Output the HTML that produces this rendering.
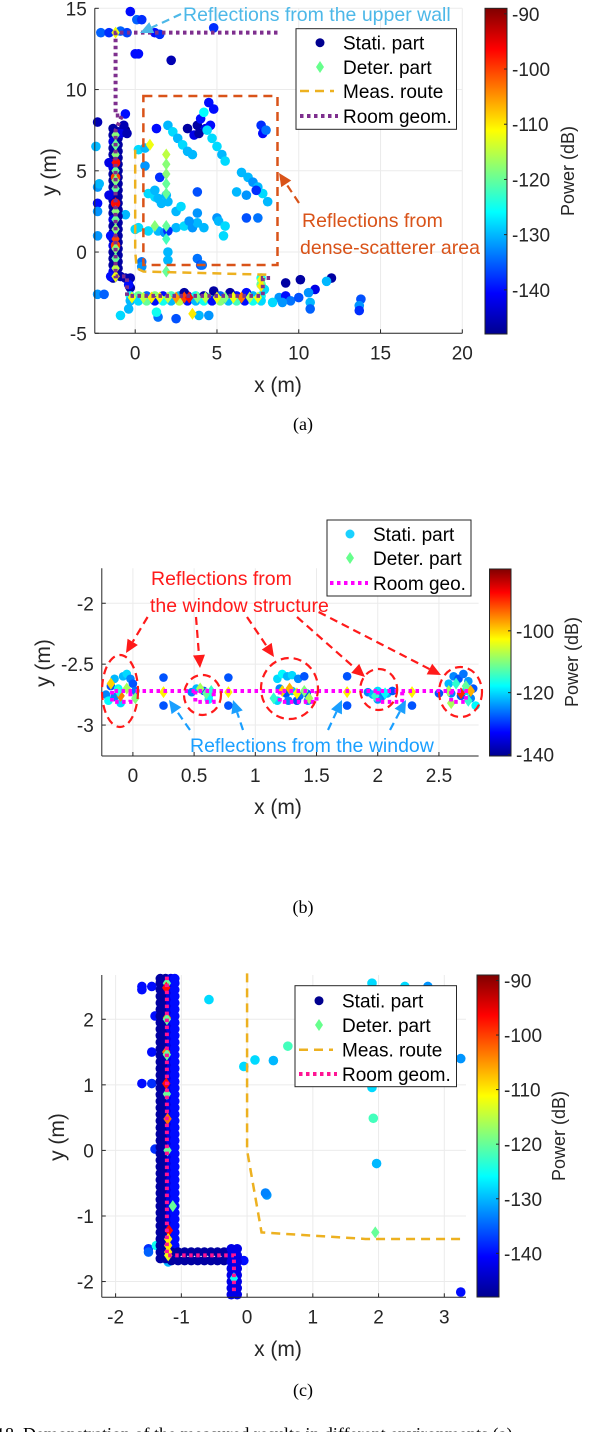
<!DOCTYPE html>
<html><head><meta charset="utf-8"><style>
body{margin:0;background:#fff}
svg text{font-family:"Liberation Sans",sans-serif}
.cap{font-family:"Liberation Serif",serif}
</style></head><body>
<svg id="fig" width="606" height="1432" viewBox="0 0 606 1432" xmlns="http://www.w3.org/2000/svg">
<defs>
<linearGradient id="jet" x1="0" y1="1" x2="0" y2="0">
<stop offset="0" stop-color="#00008f"/><stop offset="0.125" stop-color="#0000ff"/><stop offset="0.375" stop-color="#00ffff"/><stop offset="0.625" stop-color="#ffff00"/><stop offset="0.875" stop-color="#ff0000"/><stop offset="1" stop-color="#800000"/>
</linearGradient>
</defs>
</svg>
<script>
// ---------- Panel (a) data ----------
const aStati = [
[-2.1,13.5,-135],[-1.6,13.5,-138],[-0.9,13.6,-135],[-0.5,13.5,-137],[-0.3,14.8,-140],[0.1,14.3,-135],[0.4,14.3,-138],[1.2,13.5,-140],[1.5,13.4,-138],[4.8,13.8,-138],[0,12.2,-140],[0.2,12.2,-140],[2.2,11.8,-145],
[-2.3,8,-145],[-2.4,6.5,-130],[-2.3,4,-132],[-2.2,4.2,-130],[-2.3,3,-140],[-2.3,2.5,-132],[-2.3,1,-132],[-0.6,8.5,-140],[-0.6,7.5,-148],[-0.7,7.8,-145],[-0.6,2.3,-130],[-2.3,-2.6,-132],[-1.9,-2.6,-135],
[-1.35,7.6,-146],[-1.35,7.2,-146],[-1.35,6.8,-142],[-1.35,6.4,-146],[-1.35,6,-146],[-1.35,5.6,-146],[-1.35,5.2,-142],[-1.35,4.8,-146],[-1.35,4.4,-146],[-1.35,4,-146],[-1.35,3.6,-142],[-1.35,3.2,-146],[-1.35,2.8,-146],[-1.35,2.4,-146],[-1.35,2,-142],[-1.35,1.6,-146],[-1.35,1.2,-146],[-1.35,0.8,-146],[-1.35,0.4,-142],[-1.35,0,-146],[-1.35,-0.4,-146],[-1.35,-0.8,-146],[-1.35,-1.2,-142],[-1.35,-1.6,-146],
[-1.05,7.4,-146],[-1.05,7,-146],[-1.05,6.6,-146],[-1.05,6.2,-146],[-1.05,5.8,-146],[-1.05,5.4,-146],[-1.05,5,-146],[-1.05,4.6,-146],[-1.05,4.2,-146],[-1.05,3.8,-146],[-1.05,3.4,-146],[-1.05,3,-146],[-1.05,2.6,-146],[-1.05,2.2,-146],[-1.05,1.8,-146],[-1.05,1.4,-146],[-1.05,1,-146],[-1.05,0.6,-146],[-1.05,0.2,-146],[-1.05,-0.2,-146],[-1.05,-0.6,-146],[-1.05,-1,-146],[-1.05,-1.4,-146],
[-1.2,5.5,-97],[-1.2,3,-97],[-1.2,4.6,-100],[-1.2,0.4,-100],[-1.6,5.5,-142],[-1.6,3.5,-142],[-1.5,1,-140],[-1.5,-1.5,-140],[-0.9,7.3,-142],[-0.5,7.3,-145],[-0.6,-1.6,-145],[-0.3,-1.6,-145],[-0.9,-1.5,-145],[-0.3,-2.2,-145],[-0.4,-2,-140],
[2,7.8,-130],[2.3,7.4,-128],[2.6,7,-130],[2.9,6.6,-128],[3.2,6.2,-130],[3.5,6,-130],[3.2,7.6,-146],[3.6,7.2,-142],[3.8,7.8,-146],[4,8.2,-140],[4.3,7.6,-142],[4.6,7.8,-140],[3.9,7.3,-146],[4.5,9.2,-140],[4.8,8.8,-140],[4.2,8.6,-126],[4.4,7.5,-128],[4.7,7,-128],[5,6.5,-128],[5.3,6,-130],[5.5,5.6,-128],
[6.5,4.9,-130],[6.9,4.6,-130],[7.2,4.3,-132],[7.5,4,-130],[7.8,3.6,-128],[8.1,3.1,-130],[7.7,7.8,-138],[7.8,7.3,-140],[8,7.5,-134],[6.2,3.7,-130],[6.8,3.5,-132],[7.4,3.8,-138],[7.5,2.1,-134],
[1.3,7.6,-140],[0.2,6.3,-128],[0.6,6.4,-130],[0.6,5.3,-132],[1.2,3.4,-128],[1.4,3.3,-130],[1.6,3,-130],[0.8,3.6,-128],[1.2,3.8,-130],[0.8,1.3,-128],[1.4,1.3,-130],[1.8,1.2,-132],[0,1.4,-128],[0.2,1.5,-128],
[1.9,3.5,-130],[2.5,2.5,-130],[2.8,2.8,-128],[2.5,1.5,-130],[3,1.6,-128],[3.5,1.5,-132],[3.8,1.8,-130],[4.2,1.5,-130],[3.8,2.4,-132],[3.8,3.7,-136],[5,2.1,-132],[5.1,1.9,-130],[5.5,1.6,-128],[5.4,1,-128],[3.3,1.9,-132],[1.5,4.6,-138],[2,3.1,-130],[2,1.3,-138],[2,0,-130],[3.8,-0.4,-134],[4,-0.8,-136],[4.1,-0.8,-134],[0.4,-0.6,-134],[0.4,-0.9,-132],[6.8,2.1,-136],[2,-0.5,-130],
[-0.3,-2.7,-125],[0.2,-2.7,-120],[0.7,-2.7,-135],[1.2,-2.7,-118],[1.7,-2.7,-140],[2.2,-2.7,-122],[2.7,-2.7,-130],[3.2,-2.7,-140],[3.7,-2.7,-125],[4.2,-2.7,-145],[4.7,-2.7,-122],[5.2,-2.7,-135],[5.7,-2.7,-128],[6.2,-2.7,-140],[6.7,-2.7,-120],[7.2,-2.7,-130],[7.7,-2.7,-125],
[-0.3,-3,-130],[0.2,-3,-128],[0.7,-3,-120],[1.2,-3,-140],[1.7,-3,-125],[2.2,-3,-130],[2.7,-3,-115],[3.2,-3,-140],[3.7,-3,-130],[4.2,-3,-125],[4.7,-3,-140],[5.2,-3,-118],[5.7,-3,-130],[6.2,-3,-122],[6.7,-3,-140],[7.2,-3,-125],[7.7,-3,-128],
[3,-2.5,-146],[4.8,-2.4,-146],[5.8,-2.5,-146],[7.7,-1.6,-125],[7.7,-2,-120],[7.9,-2.3,-128],
[6.8,-2.5,-140],[9.2,-1.9,-146],[10.1,-1.7,-146],[11,-2.3,-142],[12,-1.6,-146],[11.7,-1.8,-130],[8.8,-2.8,-132],[9.2,-2.7,-140],[9.5,-3,-134],[10,-2.8,-136],[10.6,-2.5,-132],[10.7,-3.1,-130],[10.7,-3.5,-135],[13.8,-2.9,-136],[13.7,-3.3,-132],[13.7,-3.6,-138],[9,-3.1,-132],[8.4,-3.1,-128],
[-0.9,-3.9,-128],[-0.4,-3.5,-130],[1.4,-4,-134],[2.5,-4.1,-136],[4.5,-3.9,-132],[1.3,-3.7,-125],[3.9,-3.9,-130]
];
const aDeter = [
[-1.2,13.5,-112],[-1.2,7.2,-118],[-1.2,6.6,-120],[-1.2,6,-118],[-1.2,5.5,-97],[-1.2,5,-120],[-1.2,4.4,-118],[-1.2,3.9,-120],[-1.2,3,-97],[-1.2,2.5,-118],[-1.2,2,-120],[-1.2,1.4,-118],[-1.2,0.8,-100],[-1.2,0.2,-118],[-1.2,-0.4,-120],[-1.2,-1,-115],[-1.2,-1.5,-112],
[0.9,6.6,-112],[1.9,6,-115],[1.9,5.4,-118],[1.9,4.8,-118],[1.9,4.2,-120],[1.9,3.6,-120],[1.9,0.8,-122],[1.9,-1.2,-120],[1.2,1.6,-118],[1.9,1.6,-120],
[-0.2,-2.8,-112],[0.5,-2.8,-115],[1,-2.8,-110],[1.5,-2.8,-112],[2,-2.8,-115],[2.5,-2.8,-105],[3,-2.8,-100],[3.3,-2.8,-97],[3.8,-2.8,-118],[4.3,-2.8,-115],[5,-2.8,-112],[5.5,-2.8,-118],[6,-2.8,-112],[6.5,-2.8,-103],[7,-2.8,-115],[7.5,-2.8,-112],[3.5,-3.8,-110],[7.7,-1.7,-112],[7.7,-2.1,-110]
];
const aRouteX = [0,0,0.1,0.5,8.3];
const aRouteY = [6.3,0,-1,-1.2,-1.4];
const aRoomX = [8.7,-1.2,-1.2,-0.8,-1.2,-1.2,-0.5,-0.5,7.8,7.8,8.3];
const aRoomY = [13.5,13.5,8.4,8.4,7.5,-1.5,-1.5,-2.7,-2.7,-1.6,-1.6];
const aXTicks = [0,5,10,15,20];
const aYTicks = [-5,0,5,10,15];
const aCTicks = [-90,-100,-110,-120,-130,-140];

// ---------- Panel (b) data ----------
const bStati = [
[-0.22,-2.75,-125],[-0.18,-2.68,-128],[-0.15,-2.62,-122],[-0.12,-2.7,-118],[-0.08,-2.6,-122],[-0.05,-2.58,-120],[-0.02,-2.62,-125],[0,-2.66,-128],[-0.1,-2.82,-120],[-0.2,-2.8,-118],[-0.15,-2.77,-125],[0.02,-2.72,-126],
[0.25,-2.61,-128],[0.25,-2.84,-128],[0.78,-2.61,-128],[0.78,-2.84,-128],[1.75,-2.6,-128],[1.75,-2.84,-128],[2.28,-2.84,-128],[2.5,-2.74,-128],
[0.48,-2.73,-125],[0.52,-2.7,-122],[0.58,-2.72,-128],[0.62,-2.76,-120],[0.62,-2.79,-118],
[1.18,-2.62,-120],[1.22,-2.58,-118],[1.26,-2.6,-122],[1.3,-2.59,-120],[1.35,-2.62,-125],[1.4,-2.6,-128],[1.2,-2.7,-125],[1.25,-2.74,-128],[1.3,-2.72,-122],[1.36,-2.76,-126],[1.42,-2.74,-128],[1.18,-2.8,-120],[1.27,-2.8,-125],[1.34,-2.8,-128],[1.43,-2.8,-124],
[1.92,-2.73,-125],[1.96,-2.75,-122],[2,-2.72,-120],[2.04,-2.76,-125],[2.08,-2.74,-122],[2.12,-2.72,-128],[2,-2.79,-124],
[2.58,-2.66,-122],[2.62,-2.6,-125],[2.66,-2.62,-128],[2.7,-2.58,-126],[2.74,-2.64,-124],[2.78,-2.7,-128],[2.6,-2.74,-125],[2.68,-2.76,-128],[2.76,-2.78,-125],[2.72,-2.72,-120],[2.8,-2.84,-118]
];
const bDeter = [
[-0.18,-2.66,-100],[-0.1,-2.76,-95],[-0.05,-2.7,-108],[0.02,-2.78,-110],[-0.12,-2.72,-115],
[0.25,-2.73,-102],[0.78,-2.73,-102],[1.75,-2.73,-102],[2.28,-2.73,-102],
[0.55,-2.7,-108],[0.6,-2.74,-112],[0.64,-2.72,-115],
[1.22,-2.72,-100],[1.28,-2.7,-98],[1.34,-2.74,-102],[1.4,-2.72,-110],[1.15,-2.78,-115],[1.44,-2.78,-108],
[1.98,-2.76,-115],[2.06,-2.74,-118],
[2.58,-2.72,-108],[2.64,-2.66,-115],[2.68,-2.74,-90],[2.72,-2.68,-112],[2.76,-2.72,-98],[2.6,-2.82,-108],[2.74,-2.8,-115]
];
const bXTicks = [0,0.5,1,1.5,2,2.5];
const bYTicks = [-3,-2.5,-2];
const bCTicks = [-100,-120,-140];
const bRoomMainX = [-0.15,2.75];
const bRoomMainY = [-2.72,-2.72];
const bRoomLowX0 = [-0.17,0.51,1.2,2.0,2.6];
const bRoomLowX1 = [-0.02,0.66,1.5,2.2,2.72];

// ---------- Panel (c) data ----------
const cStripY = [2.62,2.55,2.45,2.35,2.25,2.15,2.05,1.95,1.85,1.75,1.65,1.55,1.45,1.35,1.25,1.15,1.05,0.95,0.85,0.75,0.65,0.55,0.45,0.35,0.25,0.15,0.05,-0.05,-0.15,-0.25,-0.35,-0.45,-0.55,-0.65,-0.75,-0.85,-0.95,-1.05,-1.15,-1.25,-1.35,-1.45,-1.55,-1.65];
const cStripX = [-1.32,-1.24,-1.16,-1.1];
const cHorizX = [-1.15,-1.05,-0.95,-0.85,-0.75,-0.65,-0.55,-0.45,-0.35,-0.25];
const cHorizY = [-1.55,-1.68];
const cVertY = [-1.5,-1.6,-1.7,-1.8,-1.9,-2.0,-2.1,-2.2];
const cVertX = [-0.24,-0.15];
const cStati = [
[-1.6,2.5,-140],[-1.6,2.45,-140],[-1.45,2.5,-140],[-1.4,2.05,-140],[-1.45,1.5,-140],[-1.6,1.02,-140],[-1.45,1.02,-138],[-1.4,0.02,-138],[-1.5,-1.5,-138],[-1.5,-1.55,-135],[-0.05,-1.68,-140],[0.3,-0.68,-132],[0.28,-0.65,-133],[-0.58,2.3,-128],[-0.05,1.28,-128],[0.12,1.38,-128],[0.4,1.37,-130],[0.62,1.59,-122],[1.9,2.55,-128],[2.4,2.5,-128],[2.75,2.5,-132],[3.25,1.4,-132],[1.9,0.96,-128],[1.92,0.49,-122],[1.97,-0.2,-130],[3.25,-2.16,-140],
[-1.3,-1.3,-128],[-1.38,-1.45,-125],[-1.2,-1.7,-130],[-1.25,-1.5,-110],[-1.22,-1.4,-112]
];
const cDeter = [
[-1.22,2.55,-120],[-1.23,2.48,-97],[-1.22,2.02,-103],[-1.22,2.0,-120],[-1.23,1.5,-103],[-1.22,1.46,-120],[-1.23,1.02,-97],[-1.22,0.86,-120],[-1.21,0.48,-103],[-1.21,0.0,-120],[-1.13,-0.85,-120],[-1.19,-1.22,-97],[-1.2,-1.35,-110],[-1.2,-1.45,-110],[-1.2,-1.55,-110],[-1.2,-1.6,-112],[1.95,-1.25,-120],[-0.2,-1.95,-125]
];
const cRouteX = [0,0,0.22,1.0,1.8,3.3];
const cRouteY = [2.7,0,-1.25,-1.3,-1.35,-1.35];
const cRoomX = [-1.22,-1.22,-0.2,-0.2];
const cRoomY = [2.65,-1.6,-1.6,-2.2];
const cXTicks = [-2,-1,0,1,2,3];
const cYTicks = [-2,-1,0,1,2];
const cCTicks = [-90,-100,-110,-120,-130,-140];

// ---------- helpers ----------
const NS = 'http://www.w3.org/2000/svg';
const svg = document.getElementById('fig');
function mk(tag, attrs, parent){const e=document.createElementNS(NS,tag);for(const k in attrs)e.setAttribute(k,attrs[k]);(parent||svg).appendChild(e);return e;}
function jet(t){t=Math.max(0,Math.min(1,t));const c=v=>Math.round(255*Math.max(0,Math.min(1,v)));
 return `rgb(${c(1.5-Math.abs(4*t-3))},${c(1.5-Math.abs(4*t-2))},${c(1.5-Math.abs(4*t-1))})`;}
function panel(P){
 const sx=v=>P.box[0]+(v-P.xl[0])/(P.xl[1]-P.xl[0])*(P.box[1]-P.box[0]);
 const sy=v=>P.box[3]-(v-P.yl[0])/(P.yl[1]-P.yl[0])*(P.box[3]-P.box[2]);
 const col=p=>jet((p-P.cl[0])/(P.cl[1]-P.cl[0]));
 const g=mk('g',{});  
 P.xt.forEach(v=>{const l=mk('line',{x1:sx(v),x2:sx(v),y1:P.box[2],y2:P.box[3],stroke:'#ebebeb','stroke-width':1},g);});
 P.yt.forEach(v=>{const l=mk('line',{x1:P.box[0],x2:P.box[1],y1:sy(v),y2:sy(v),stroke:'#ebebeb','stroke-width':1},g);});
 const ps=mk('g',{},g);  
 P.stati.forEach(d=>{const c=mk('circle',{cx:sx(d[0]),cy:sy(d[1]),r:P.r,fill:col(d[2])},ps);
  
  });
 const pd=mk('g',{},g);  
 P.deter.forEach(d=>{const x=sx(d[0]),y=sy(d[1]);const q=mk('polygon',{points:`${x},${y-6} ${x+4.2},${y} ${x},${y+6} ${x-4.2},${y}`,fill:col(d[2])},pd);
  
  });
 if(P.route){const pl=mk('polyline',{points:P.route[0].map((v,i)=>sx(v)+','+sy(P.route[1][i])).join(' '),fill:'none',stroke:'#edb120','stroke-width':2.5,'stroke-dasharray':'9,6'},g);
  
  }
 P.rooms.forEach(r=>{const pl=mk('polyline',{points:r[0].map((v,i)=>sx(v)+','+sy(r[1][i])).join(' '),fill:'none',stroke:P.roomCol,'stroke-width':4,'stroke-dasharray':'3.5,3.5'},g);
  
  });
 mk('line',{x1:P.box[0],x2:P.box[1],y1:P.box[3],y2:P.box[3],stroke:'#262626','stroke-width':1},g);
 mk('line',{x1:P.box[0],x2:P.box[0],y1:P.box[2],y2:P.box[3],stroke:'#262626','stroke-width':1},g);
 P.xt.forEach(v=>{mk('line',{x1:sx(v),x2:sx(v),y1:P.box[3],y2:P.box[3]-4,stroke:'#262626'},g);
  const t=mk('text',{x:sx(v),y:P.box[3]+26,'text-anchor':'middle','font-size':19,fill:'#262626'},g);t.textContent=v;
  });
 P.yt.forEach(v=>{mk('line',{x1:P.box[0],x2:P.box[0]+4,y1:sy(v),y2:sy(v),stroke:'#262626'},g);
  const t=mk('text',{x:P.box[0]-8,y:sy(v)+7,'text-anchor':'end','font-size':19,fill:'#262626'},g);t.textContent=v;
  });
 const xl=mk('text',{x:P.xlab[0],y:P.xlab[1],'text-anchor':'middle','font-size':21,fill:'#262626'},g);xl.textContent='x (m)';
 
 const yl=mk('text',{x:0,y:0,'text-anchor':'middle','font-size':21,fill:'#262626',transform:`translate(${P.ylab[0]},${P.ylab[1]}) rotate(-90)`},g);yl.textContent='y (m)';
 
 const cb=P.cb;
 const cr=mk('rect',{x:cb[0],y:cb[2],width:cb[1]-cb[0],height:cb[3]-cb[2],fill:'url(#jet)',stroke:'#262626','stroke-width':1},g);
 
 const cy=v=>cb[3]-(v-P.cl[0])/(P.cl[1]-P.cl[0])*(cb[3]-cb[2]);
 P.ct.forEach(v=>{mk('line',{x1:cb[1]-3,x2:cb[1],y1:cy(v),y2:cy(v),stroke:'#262626'},g);
  const t=mk('text',{x:cb[1]+5,y:cy(v)+7,'font-size':19,fill:'#262626'},g);t.textContent=v;
  });
 const ct=mk('text',{x:0,y:0,'text-anchor':'middle','font-size':18,fill:'#262626',transform:`translate(${P.clab[0]},${P.clab[1]}) rotate(-90)`},g);ct.textContent='Power (dB)';
 
 const L=P.leg;
 const lb=mk('rect',{x:L.box[0],y:L.box[1],width:L.box[2],height:L.box[3],fill:'#fff',stroke:'#262626','stroke-width':1},g);
 
 L.items.forEach((it,i)=>{const y=L.ys[i];const mx=L.mx;
  if(it[0]==='dot')mk('circle',{cx:mx,cy:y,r:4.5,fill:it[2]},g);
  if(it[0]==='dia')mk('polygon',{points:`${mx},${y-6} ${mx+4},${y} ${mx},${y+6} ${mx-4},${y}`,fill:it[2]},g);
  if(it[0]==='dash')mk('line',{x1:mx-20,x2:mx+14,y1:y,y2:y,stroke:it[2],'stroke-width':2.5,'stroke-dasharray':'9,6'},g);
  if(it[0]==='dot4')mk('line',{x1:mx-20,x2:mx+18,y1:y,y2:y,stroke:it[2],'stroke-width':4,'stroke-dasharray':'3.5,3.5'},g);
  const t=mk('text',{x:L.tx,y:y+7,'font-size':19,fill:'#000'},g);t.textContent=it[1];
  });
 const cp=mk('text',{x:303,y:P.cap[1],'text-anchor':'middle','font-size':18,class:'cap',fill:'#000'},g);cp.textContent=P.cap[0];
 
 return {sx,sy,g};
}
function arrow(x1,y1,x2,y2,color,name){
 const a=Math.atan2(y2-y1,x2-x1),L=13,W=6;
 const bx=x2-L*Math.cos(a),by=y2-L*Math.sin(a);
 const l=mk('line',{x1,y1,x2:bx,y2:by,stroke:color,'stroke-width':2.2,'stroke-dasharray':'8,5'});
 
 mk('polygon',{points:`${x2},${y2} ${bx-W*Math.sin(a)},${by+W*Math.cos(a)} ${bx+W*Math.sin(a)},${by-W*Math.cos(a)}`,fill:color});
}
function label(x,y,txt,color,size,name){const t=mk('text',{x,y,'font-size':size,fill:color});t.textContent=txt;
 }

// ---------- Panel (a) ----------
const A=panel({name:'panel-a',box:[94.8,462.3,8.3,333.3],xl:[-2.47,20],yl:[-5,15],cl:[-148,-89],r:4.8,
 stati:aStati,deter:aDeter,route:[aRouteX,aRouteY],rooms:[[aRoomX,aRoomY]],roomCol:'#7e2f8e',
 xt:aXTicks,yt:aYTicks,ct:aCTicks,cb:[485,507,8.3,334],clab:[574,171],xlab:[278,392],ylab:[56,172],
 leg:{box:[296,28.7,160.5,100.6],mx:320,tx:343,ys:[42.7,67,91,116],items:[['dot','Stati. part','#00008f'],['dia','Deter. part','#66ff8c'],['dash','Meas. route','#edb120'],['dot4','Room geom.','#7e2f8e']]},
 cap:['(a)',430]});
const db=mk('rect',{x:A.sx(0.5),y:A.sy(9.6),width:A.sx(8.7)-A.sx(0.5),height:A.sy(-0.8)-A.sy(9.6),fill:'none',stroke:'#d95319','stroke-width':2.5,'stroke-dasharray':'9,6'});

arrow(181,14,140,33,'#4db8e8','upper-wall-arrow');
label(183,21,'Reflections from the upper wall','#4db8e8',19.5,'upper-wall-annotation');
arrow(299,203,279,173,'#d95319','dense-area-arrow');
label(302,227,'Reflections from','#d95319',19.5,'dense-area-annotation-line1');
label(300,254,'dense-scatterer area','#d95319',19.5,'dense-area-annotation-line2');

// ---------- Panel (b) ----------
const lowRooms = bRoomLowX0.map((x0,i)=>[[x0,x0,bRoomLowX1[i],bRoomLowX1[i]],[-2.72,-2.81,-2.81,-2.72]]);
const B=panel({name:'panel-b',box:[101.8,478.6,568.3,756],xl:[-0.254,2.824],yl:[-3.254,-1.713],cl:[-140.5,-80],r:4.3,
 stati:bStati,deter:bDeter,route:null,rooms:[[bRoomMainX,bRoomMainY]].concat(lowRooms),roomCol:'#ff00ff',
 xt:bXTicks,yt:bYTicks,ct:bCTicks,cb:[489.5,511,569,756],clab:[578,662],xlab:[278,814],ylab:[50,663],
 leg:{box:[327,520,144,76],mx:350,tx:373,ys:[534,558,583],items:[['dot','Stati. part','#1ad1ff'],['dia','Deter. part','#66ff8c'],['dot4','Room geo.','#ff00ff']]},
 cap:['(b)',913]});
[[120,691,18,36],[202.5,695,18.5,20],[289.5,688.5,28.5,30.5],[378.7,689.5,18.5,20.5],[460.5,692,21.5,25]].forEach(e=>{
 const el=mk('ellipse',{cx:e[0],cy:e[1],rx:e[2],ry:e[3],fill:'none',stroke:'#ff1a1a','stroke-width':2.2,'stroke-dasharray':'8,5'});
 });
[[147.6,617,126,653],[196,617,200,668],[247,617,274,657],[297,617,365,677],[318.6,612,441,675]].forEach(a=>arrow(a[0],a[1],a[2],a[3],'#ff1a1a','window-structure-arrow'));
[[190,730,169,700],[243,730,233,700],[328,730,342,700],[390,730,406,700]].forEach(a=>arrow(a[0],a[1],a[2],a[3],'#1a9fff','window-arrow'));
label(151,585,'Reflections from','#ff1a1a',19.5,'window-structure-annotation-line1');
label(150,612,'the window structure','#ff1a1a',19.5,'window-structure-annotation-line2');
label(190,752,'Reflections from the window','#1a9fff',19.5,'window-annotation');

// ---------- Panel (c) ----------
const cAll=[...cStati];
const cStripP=[-146,-146,-142,-140];
cStripX.forEach((x,i)=>cStripY.forEach(y=>cAll.push([x,y,cStripP[i]])));
cHorizY.forEach(y=>cHorizX.forEach(x=>cAll.push([x,y,-146])));
cVertX.forEach(x=>cVertY.forEach(y=>cAll.push([x,y,-142])));
const C=panel({name:'panel-c',box:[101.8,466,975,1297.3],xl:[-2.21,3.33],yl:[-2.24,2.675],cl:[-148,-89],r:4.8,
 stati:cAll,deter:cDeter,route:[cRouteX,cRouteY],rooms:[[cRoomX,cRoomY]],roomCol:'#ff1493',
 xt:cXTicks,yt:cYTicks,ct:cCTicks,cb:[477,499,975,1297],clab:[565,1136],xlab:[278,1356],ylab:[64,1137],
 leg:{box:[295,985.7,161.5,101],mx:319,tx:342,ys:[1000.7,1025,1049.7,1074],items:[['dot','Stati. part','#00008f'],['dia','Deter. part','#66ff8c'],['dash','Meas. route','#edb120'],['dot4','Room geom.','#ff1493']]},
 cap:['(c)',1396]});
const ft=mk('text',{x:-4,y:1440,'font-size':18,class:'cap',fill:'#000'});ft.textContent='18.  Demonstration of the measured results in different environments (a)';

</script>
</body></html>
